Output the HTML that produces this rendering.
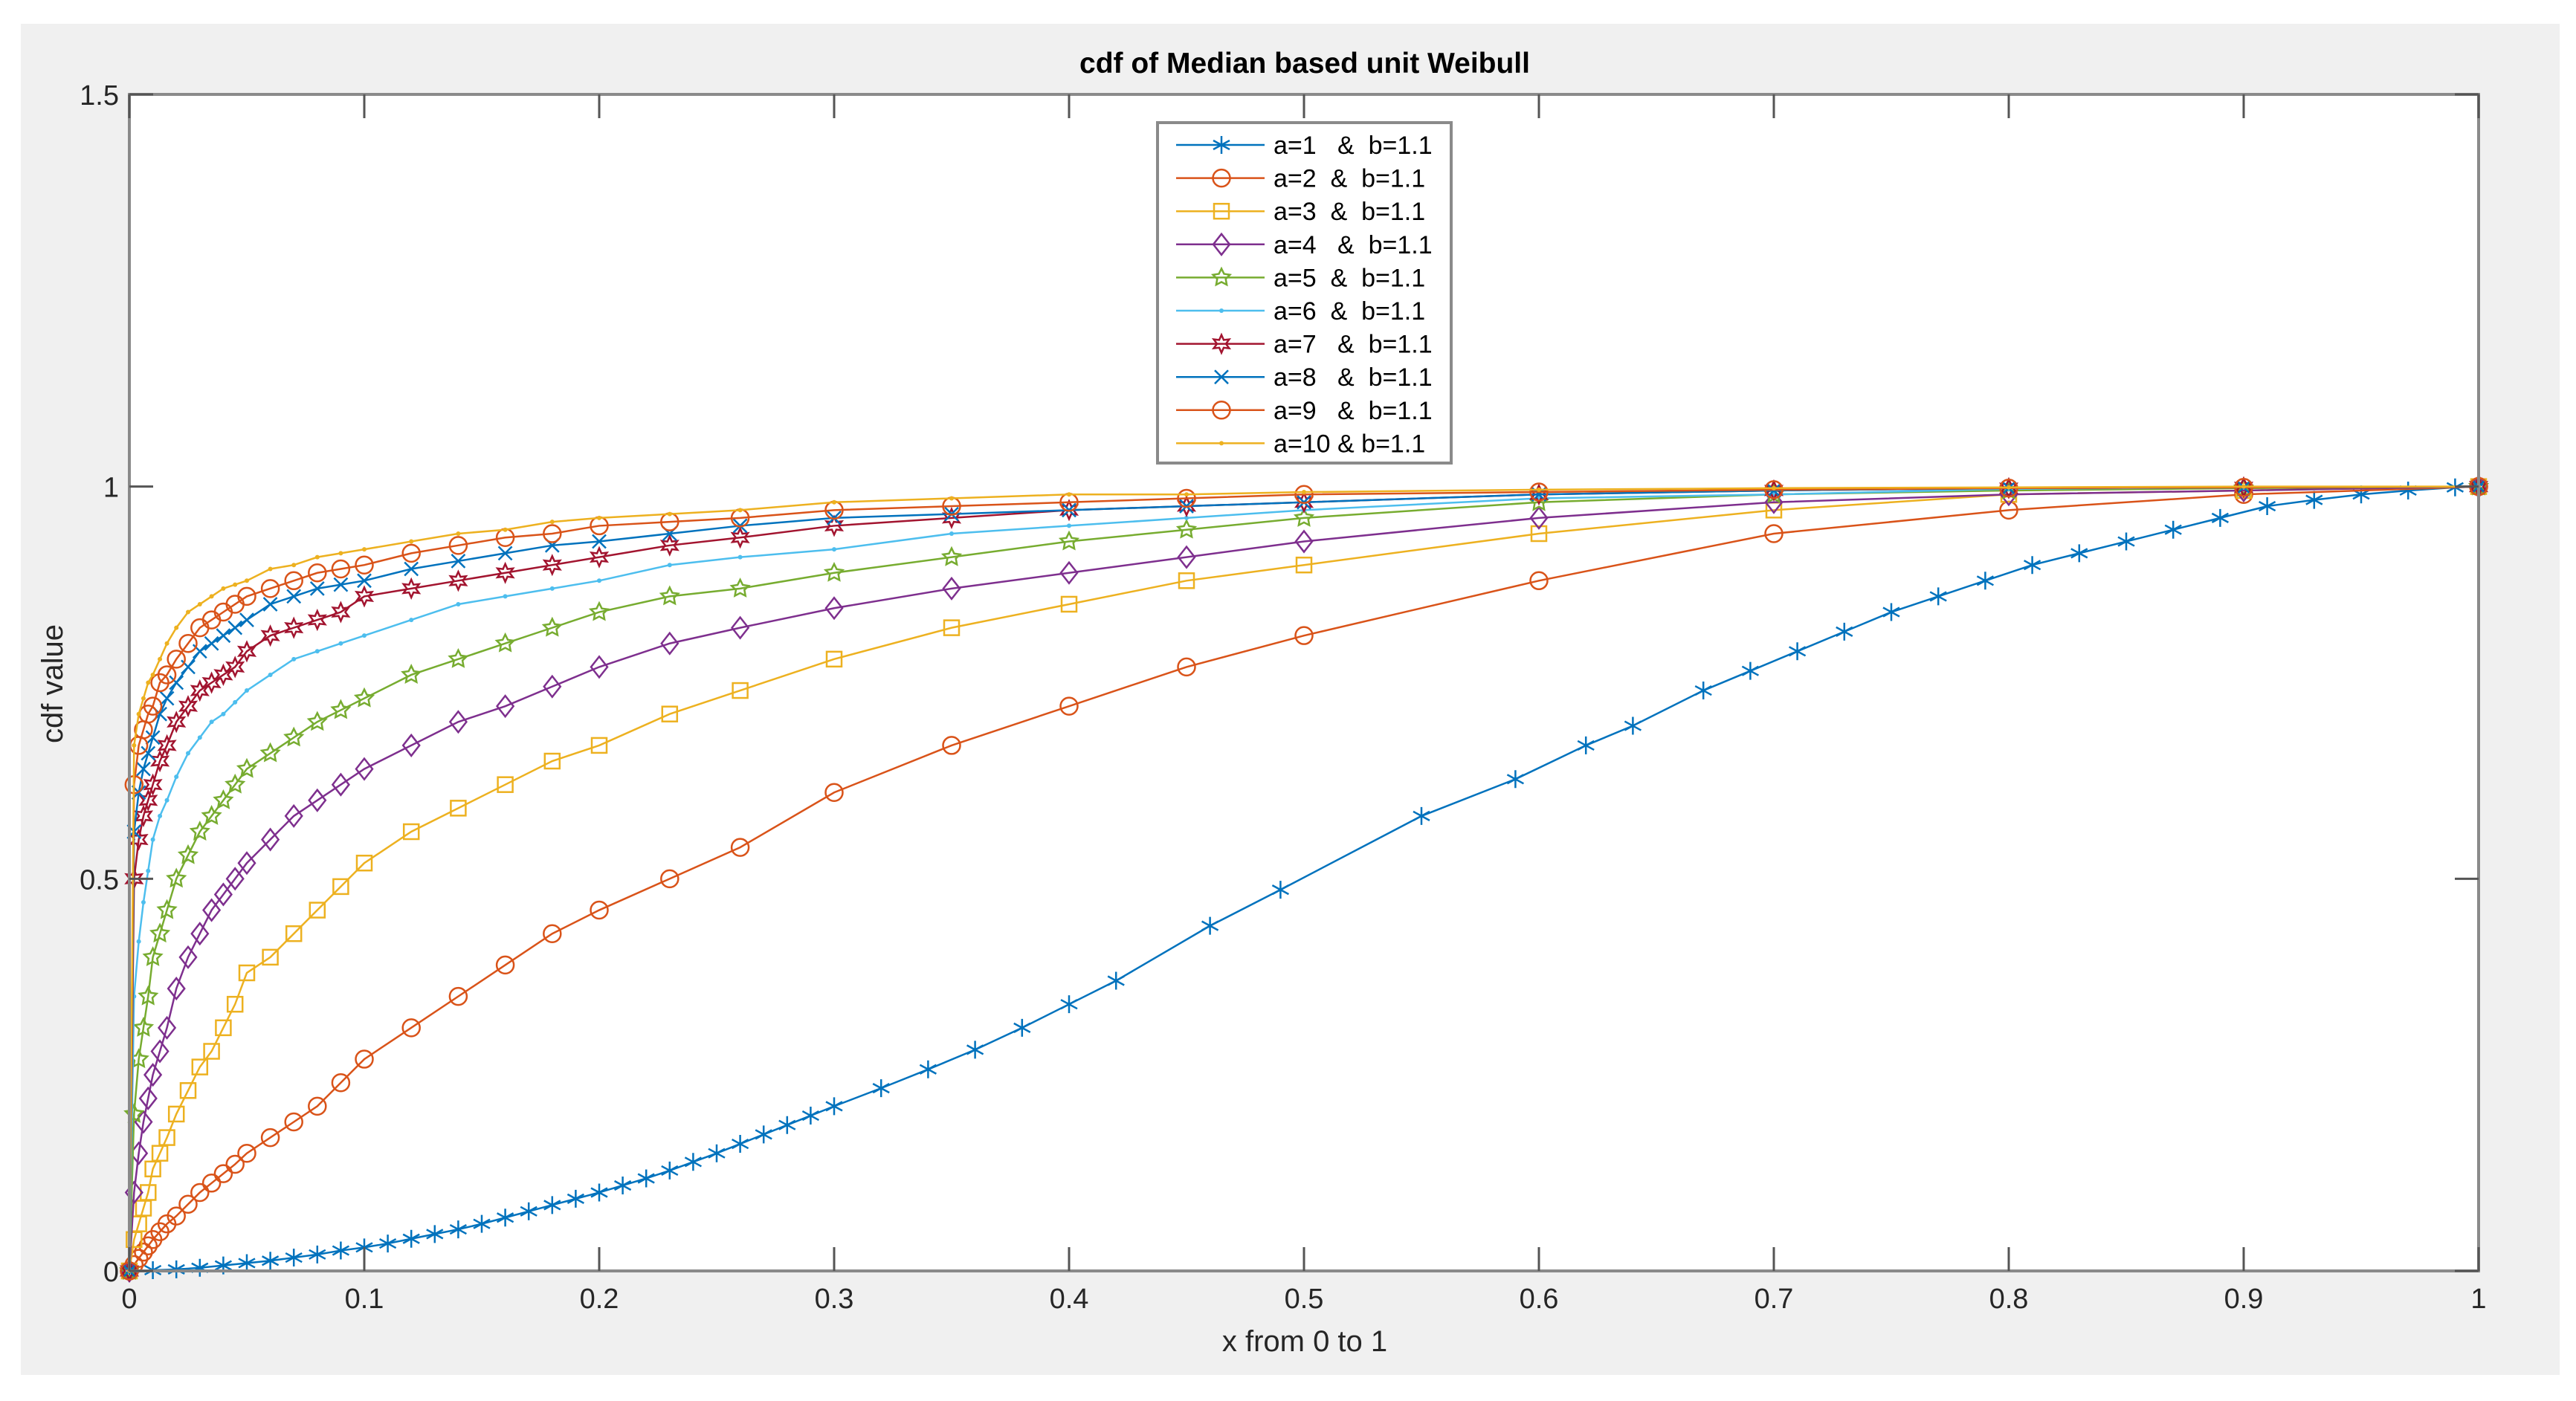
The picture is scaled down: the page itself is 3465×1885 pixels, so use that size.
<!DOCTYPE html>
<html><head><meta charset="utf-8"><style>
html,body{margin:0;padding:0;background:#fff;}
svg{display:block;font-family:"Liberation Sans",Arial,sans-serif;}
</style></head><body>
<svg id="chart" width="3465" height="1885" viewBox="0 0 3465 1885" xmlns="http://www.w3.org/2000/svg">
<rect x="28" y="32" width="3415" height="1818" fill="#f0f0f0"/>
<rect x="174" y="127" width="3160" height="1583" fill="#fff"/>
<g id="series"></g>
<g id="axes"></g>
<text x="1755" y="98" font-size="39" font-weight="bold" text-anchor="middle" fill="#000">cdf of Median based unit Weibull</text>
<text x="1755" y="1818" font-size="40" text-anchor="middle" fill="#262626">x from 0 to 1</text>
<text x="0" y="0" font-size="40" text-anchor="middle" fill="#262626" transform="translate(84,920) rotate(-90)">cdf value</text>
<g id="legend"></g>
</svg>
<script>
const xTicks=[0,0.1,0.2,0.3,0.4,0.5,0.6,0.7,0.8,0.9,1];
const xTickLabels=["0","0.1","0.2","0.3","0.4","0.5","0.6","0.7","0.8","0.9","1"];
const yTicks=[0,0.5,1,1.5];
const yTickLabels=["0","0.5","1","1.5"];
const seriesNames=["a=1   &  b=1.1","a=2  &  b=1.1","a=3  &  b=1.1","a=4   &  b=1.1","a=5  &  b=1.1","a=6  &  b=1.1","a=7   &  b=1.1","a=8   &  b=1.1","a=9   &  b=1.1","a=10 & b=1.1"];
const s1x=[0,0.01,0.02,0.03,0.04,0.05,0.06,0.07,0.08,0.09,0.1,0.11,0.12,0.13,0.14,0.15,0.16,0.17,0.18,0.19,0.2,0.21,0.22,0.23,0.24,0.25,0.26,0.27,0.28,0.29,0.3,0.32,0.34,0.36,0.38,0.4,0.42,0.46,0.49,0.55,0.59,0.62,0.64,0.67,0.69,0.71,0.73,0.75,0.77,0.79,0.81,0.83,0.85,0.87,0.89,0.91,0.93,0.95,0.97,0.99,1];
const s1y=[0,0.001,0.002,0.004,0.007,0.01,0.013,0.017,0.021,0.026,0.03,0.035,0.041,0.047,0.053,0.06,0.068,0.076,0.084,0.092,0.1,0.109,0.118,0.128,0.139,0.15,0.162,0.174,0.186,0.198,0.21,0.233,0.257,0.282,0.31,0.34,0.37,0.44,0.486,0.58,0.627,0.67,0.695,0.74,0.765,0.79,0.815,0.84,0.86,0.88,0.9,0.915,0.93,0.945,0.96,0.975,0.983,0.99,0.995,0.999,1];
const sharedX=[0,0.002,0.004,0.006,0.008,0.01,0.013,0.016,0.02,0.025,0.03,0.035,0.04,0.045,0.05,0.06,0.07,0.08,0.09,0.1,0.12,0.14,0.16,0.18,0.2,0.23,0.26,0.3,0.35,0.4,0.45,0.5,0.6,0.7,0.8,0.9,1];
const s2y=[0,0.008,0.016,0.024,0.032,0.04,0.05,0.06,0.07,0.085,0.1,0.112,0.124,0.136,0.15,0.17,0.19,0.21,0.24,0.27,0.31,0.35,0.39,0.43,0.46,0.5,0.54,0.61,0.67,0.72,0.77,0.81,0.88,0.94,0.97,0.99,1];
const s3y=[0,0.04,0.06,0.08,0.1,0.13,0.15,0.17,0.2,0.23,0.26,0.28,0.31,0.34,0.38,0.4,0.43,0.46,0.49,0.52,0.56,0.59,0.62,0.65,0.67,0.71,0.74,0.78,0.82,0.85,0.88,0.9,0.94,0.97,0.99,0.995,1];
const s4y=[0,0.1,0.15,0.19,0.22,0.25,0.28,0.31,0.36,0.4,0.43,0.46,0.48,0.5,0.52,0.55,0.58,0.6,0.62,0.64,0.67,0.7,0.72,0.745,0.77,0.8,0.82,0.845,0.87,0.89,0.91,0.93,0.96,0.98,0.99,0.995,1];
const s5y=[0,0.2,0.27,0.31,0.35,0.4,0.43,0.46,0.5,0.53,0.56,0.58,0.6,0.62,0.64,0.66,0.68,0.7,0.715,0.73,0.76,0.78,0.8,0.82,0.84,0.86,0.87,0.89,0.91,0.93,0.945,0.96,0.98,0.99,0.995,0.998,1];
const s6y=[0,0.35,0.42,0.47,0.51,0.55,0.58,0.6,0.63,0.66,0.68,0.7,0.71,0.725,0.74,0.76,0.78,0.79,0.8,0.81,0.83,0.85,0.86,0.87,0.88,0.9,0.91,0.92,0.94,0.95,0.96,0.97,0.985,0.99,0.997,0.999,1];
const s7y=[0,0.5,0.55,0.58,0.6,0.62,0.65,0.67,0.7,0.72,0.74,0.75,0.76,0.77,0.79,0.81,0.82,0.83,0.84,0.86,0.87,0.88,0.89,0.9,0.91,0.925,0.935,0.95,0.96,0.97,0.975,0.98,0.99,0.995,0.998,0.999,1];
const s8y=[0,0.56,0.61,0.64,0.66,0.68,0.71,0.73,0.75,0.77,0.79,0.8,0.81,0.82,0.83,0.85,0.86,0.87,0.875,0.88,0.895,0.905,0.915,0.925,0.93,0.94,0.95,0.96,0.965,0.97,0.975,0.98,0.99,0.995,0.998,0.999,1];
const s9y=[0,0.62,0.67,0.69,0.71,0.72,0.75,0.76,0.78,0.8,0.82,0.83,0.84,0.85,0.86,0.87,0.88,0.89,0.895,0.9,0.915,0.925,0.935,0.94,0.95,0.955,0.96,0.97,0.975,0.98,0.985,0.99,0.993,0.996,0.998,0.999,1];
const s10y=[0,0.67,0.71,0.73,0.75,0.76,0.78,0.8,0.82,0.84,0.85,0.86,0.87,0.875,0.88,0.895,0.9,0.91,0.915,0.92,0.93,0.94,0.945,0.955,0.96,0.965,0.97,0.98,0.985,0.99,0.99,0.993,0.996,0.998,0.999,1,1];
const SX=[s1x,sharedX,sharedX,sharedX,sharedX,sharedX,sharedX,sharedX,sharedX,sharedX];
const SY=[s1y,s2y,s3y,s4y,s5y,s6y,s7y,s8y,s9y,s10y];
const colors=["#0072BD","#D95319","#EDB120","#7E2F8E","#77AC30","#4DBEEE","#A2142F","#0072BD","#D95319","#EDB120"];
const markers=["star","circle","square","diamond","pentagram","dot","hexagram","x","circle","dot"];
const NS="http://www.w3.org/2000/svg";
const L=174,R=3334,T=127,B=1710;
const xs=v=>L+v*(R-L);
const ys=v=>B-v/1.5*(B-T);
function el(tag,attrs,parent){const e=document.createElementNS(NS,tag);for(const k in attrs)e.setAttribute(k,attrs[k]);parent.appendChild(e);return e;}
function marker(type,cx,cy,c,parent){
  let e;
  if(type==="circle"){e=el("circle",{cx,cy,r:11.5,fill:"none",stroke:c,"stroke-width":2.5},parent);}
  else if(type==="square"){e=el("rect",{x:cx-10,y:cy-10,width:20,height:20,fill:"none",stroke:c,"stroke-width":2.5},parent);}
  else if(type==="diamond"){e=el("polygon",{points:`${cx},${cy-14} ${cx+11},${cy} ${cx},${cy+14} ${cx-11},${cy}`,fill:"none",stroke:c,"stroke-width":2.5},parent);}
  else if(type==="dot"){e=el("circle",{cx,cy,r:3,fill:c},parent);}
  else if(type==="x"){e=el("path",{d:`M${cx-9},${cy-9}L${cx+9},${cy+9}M${cx-9},${cy+9}L${cx+9},${cy-9}`,stroke:c,"stroke-width":2.5},parent);}
  else if(type==="star"){e=el("path",{d:`M${cx},${cy-12}V${cy+12}M${cx-11},${cy-6}L${cx+11},${cy+6}M${cx-11},${cy+6}L${cx+11},${cy-6}`,stroke:c,"stroke-width":2.5},parent);}
  else { const n=type==="pentagram"?5:6;let p=[];
    for(let i=0;i<2*n;i++){const rr=i%2?6:12;const a=-Math.PI/2+i*Math.PI/n;p.push((cx+rr*Math.cos(a)).toFixed(1)+","+(cy+rr*Math.sin(a)).toFixed(1));}
    e=el("polygon",{points:p.join(" "),fill:"none",stroke:c,"stroke-width":2.5},parent);}
  
  
}
const sg=document.getElementById("series");
SX.forEach((xa,i)=>{
  const g=el("g",{},sg);
  
  
  const pl=el("polyline",{points:xa.map((x,j)=>xs(x)+","+ys(SY[i][j])).join(" "),fill:"none",stroke:colors[i],"stroke-width":2.5},g);
  
  
  xa.forEach((x,j)=>marker(markers[i],xs(x),ys(SY[i][j]),colors[i],g));
});
const ax=document.getElementById("axes");
const fr=el("rect",{x:L,y:T,width:R-L,height:B-T,fill:"none",stroke:"#8a8a8a","stroke-width":4},ax);


xTicks.forEach((v,i)=>{
  const x=xs(v);
  el("path",{d:`M${x},${B}V${B-32}M${x},${T}V${T+32}`,stroke:"#555","stroke-width":3},ax);
  const t=el("text",{x,y:1760,"font-size":38,"text-anchor":"middle",fill:"#262626"},ax);
  t.textContent=xTickLabels[i];
  
  
});
yTicks.forEach((v,i)=>{
  const y=ys(v);
  el("path",{d:`M${L},${y}H${L+32}M${R},${y}H${R-32}`,stroke:"#555","stroke-width":3},ax);
  const t=el("text",{x:160,y:y+14,"font-size":38,"text-anchor":"end",fill:"#262626"},ax);
  t.textContent=yTickLabels[i];
  
  
});
const lg=document.getElementById("legend");
const lb=el("rect",{x:1557,y:165,width:395,height:458,fill:"#fff",stroke:"#8a8a8a","stroke-width":4},lg);


seriesNames.forEach((n,i)=>{
  const y=195+i*44.6;
  const g=el("g",{},lg);
  
  
  el("line",{x1:1582,x2:1701,y1:y,y2:y,stroke:colors[i],"stroke-width":2.5},g);
  marker(markers[i],1643,y,colors[i],g);
  const t=el("text",{x:1713,y:y+12,"font-size":34,fill:"#000"},g);
  t.style.whiteSpace="pre";
  t.textContent=n;
});
</script>
</body></html>
